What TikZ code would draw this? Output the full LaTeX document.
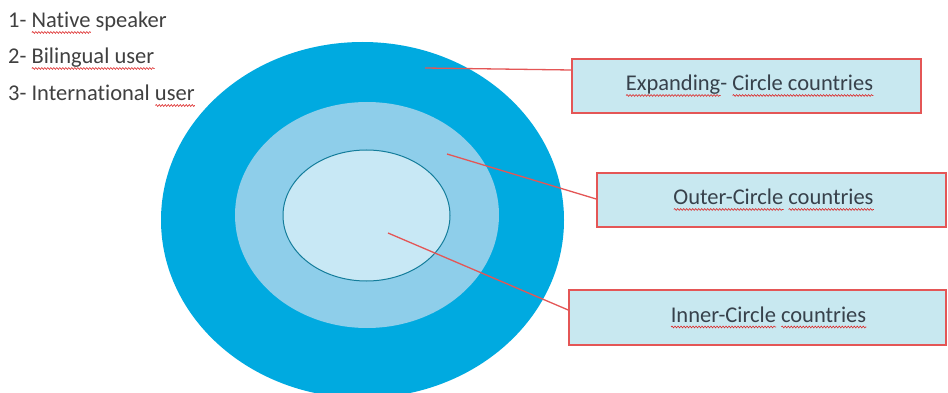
\documentclass[tikz,border=0pt]{standalone}
\usepackage{fontspec}
\setmainfont{Carlito}[Ligatures=NoCommon]
\usetikzlibrary{decorations.pathmorphing}

\definecolor{ringOuter}{RGB}{0,170,224}
\definecolor{ringMiddle}{RGB}{142,206,234}
\definecolor{ringInner}{RGB}{200,232,245}
\definecolor{ringEdge}{RGB}{20,125,155}
\definecolor{boxFill}{RGB}{200,232,240}
\definecolor{leaderRed}{RGB}{228,86,86}
\definecolor{squigRed}{RGB}{220,40,40}
\definecolor{listText}{RGB}{64,64,64}
\definecolor{boxText}{RGB}{55,65,75}

% spell-check style red wavy underline under a word
\newsavebox{\squigbox}
\newcommand{\squig}[1]{%
  \sbox{\squigbox}{#1}%
  \rlap{\tikz[baseline=0pt]\draw[squigRed,line width=0.6pt,
      decorate,decoration={snake,amplitude=0.9pt,segment length=3pt}]
      (0pt,-4.5pt) -- (\wd\squigbox,-4.5pt);}%
  \usebox{\squigbox}}

\begin{document}
\begin{tikzpicture}[x=1pt,y=-1pt,
  listitem/.style={anchor=base west,inner sep=0pt,text=listText,font=\fontsize{22.5}{25}\selectfont},
  labelbox/.style={draw=leaderRed,line width=1.6pt,fill=boxFill,rectangle,
    inner sep=0pt,text=boxText,font=\fontsize{22.5}{25}\selectfont},
  leader/.style={draw=leaderRed,line width=1.3pt}]
  \useasboundingbox (0,0) rectangle (948,393);
  \clip (0,0) rectangle (948,393);
  \fill[white] (0,0) rectangle (948,393);

  % concentric circles
  \fill[ringOuter] (362.5,220) ellipse [x radius=201.5, y radius=178];
  \fill[ringMiddle] (367,215) ellipse [x radius=132, y radius=113];
  \filldraw[fill=ringInner,draw=ringEdge,line width=1pt] (366.5,215.5) ellipse [x radius=83.5, y radius=65.5];

  % numbered list
  \node[listitem] (l1) at (8,28) {1- \squig{Native} speaker};
  \node[listitem] (l2) at (8,64) {2- \squig{Bilingual user}};
  \node[listitem] (l3) at (8,101) {3- International \squig{user}};

  % label boxes
  \node[labelbox,minimum width=349pt,minimum height=54pt] (b1) at (746.5,86)
    {\hspace*{6pt}\squig{Expanding}- \squig{Circle countries}};
  \node[labelbox,minimum width=349pt,minimum height=54pt] (b2) at (771.5,200)
    {\hspace*{4pt}\squig{Outer-Circle} \squig{countries}};
  \node[labelbox,minimum width=377pt,minimum height=55pt] (b3) at (757.5,317.5)
    {\hspace*{22pt}\squig{Inner-Circle} \squig{countries}};

  % leader lines from each ring to its box
  \coordinate (p1) at (425,68);
  \coordinate (p2) at (447,154);
  \coordinate (p3) at (388,233);
  \draw[leader] (p1) -- ([yshift=16pt]b1.west);
  \draw[leader] (p2) -- ([yshift=1pt]b2.west);
  \draw[leader] (p3) -- ([yshift=7.5pt]b3.west);
\end{tikzpicture}
\end{document}
